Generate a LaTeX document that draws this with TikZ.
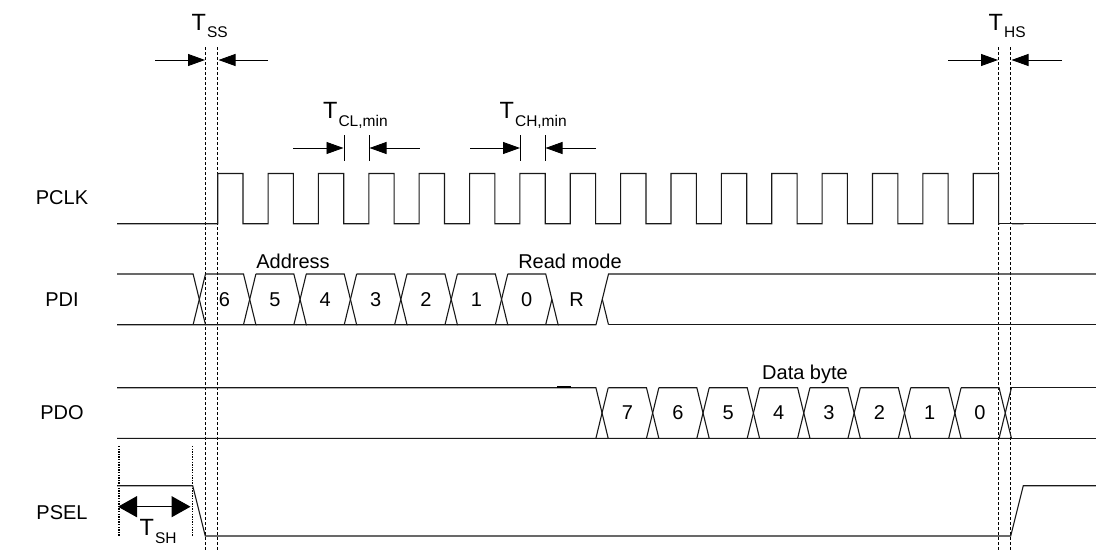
\documentclass[tikz,border=0pt]{standalone}
\usepackage{fontspec}
\setmainfont{Liberation Sans}
\usetikzlibrary{arrows.meta}
\tikzset{
  sig/.style={line width=1.1pt,black!90},
  guide/.style={line width=0.9pt,dash pattern=on 3pt off 2pt},
  dots/.style={line width=1.3pt,dash pattern=on 1.3pt off 1.3pt},
  gap/.style={line width=0.9pt,-{Triangle[length=17pt,width=12pt]}},
  both/.style={line width=1.3pt,{Triangle[length=19pt,width=21pt]}-{Triangle[length=19pt,width=21pt]}},
  lab/.style={font=\fontsize{20}{24}\selectfont,inner sep=0pt},
  tim/.style={anchor=base west,inner sep=0pt,font=\fontsize{23.5}{28}\selectfont},
}
\newcommand{\timing}[1]{T\hspace{1pt}\raisebox{-7.5pt}{\fontsize{15.5}{18}\selectfont #1}}
\begin{document}
\begin{tikzpicture}[x=1pt,y=-1pt]
\useasboundingbox (0,0) rectangle (1096,552);
% guide lines
\foreach \x in {205.3,217.7,998.7,1010.7}
  \draw[guide] (\x,47) -- (\x,552);
\draw[dots] (119,446) -- (119,536);
\draw[dots] (192.7,446) -- (192.7,536);
% PCLK
\draw[sig] (117,223.7) -- (217.7,223.7)
  \foreach \i in {0,...,15} {
    -- ({217.7+50.37*\i},173.5) -- ({243+50.37*\i},173.5)
    -- ({243+50.37*\i},223.7) -- ({268.07+50.37*\i},223.7)
  };
\draw[sig,white,line width=2pt] (999.5,223.7) -- (1012,223.7);
\draw[sig] (998.7,223.7) -- (1096,223.7);
% PDI
\draw[sig] (117,274) -- (193.1,274) -- (205.5,324.7) -- (117,324.7);
\draw[sig] (193.1,324.7) -- (205.5,274);
\foreach \bit [count=\i from 0,evaluate=\i as \xc using 199.3+50.37*\i] in {6,5,4,3,2,1,0} {
  \node[lab] (pdi\i) at ({\xc+25.2},300) {\bit};
  \draw[sig] ({\xc+6.2},274) -- ({\xc+44.2},274) -- ({\xc+56.6},324.7) -- ({\xc+44.2},324.7) -- ({\xc+6.2},324.7);
  \ifnum\i<6
    \draw[sig] ({\xc+44.2},324.7) -- ({\xc+56.6},274);
  \fi
}
\draw[sig] (545.7,324.7) -- (551.9,299.3);
\draw[sig] (558.1,324.7) -- (596,324.7) -- (608.5,274) -- (1096,274);
\draw[sig] (608.5,324.7) -- (602.3,299.3);
\draw[sig] (608.5,324.7) -- (1096,324.7);
\node[lab] (pdir) at (576.7,300) {R};
% PDO
\draw[sig] (117,387.7) -- (595.9,387.7) -- (608.2,438.3) -- (595.9,438.3) -- (117,438.3);
\draw[sig] (595.9,438.3) -- (608.2,387.7);
\draw[line width=2pt] (557,387.4) -- (571,387.4);
\foreach \bit [count=\i from 8,evaluate=\i as \xc using 199.3+50.37*\i] in {7,6,5,4,3,2,1,0} {
  \node[lab] (pdo\i) at ({\xc+25.2},413) {\bit};
  \draw[sig] ({\xc+6.2},387.7) -- ({\xc+44.2},387.7) -- ({\xc+56.6},438.3) -- ({\xc+44.2},438.3) -- ({\xc+6.2},438.3);
  \draw[sig] ({\xc+44.2},438.3) -- ({\xc+56.6},387.7);
}
\draw[sig] (1011.2,387.7) -- (1096,387.7);
\draw[sig] (1011.2,438.3) -- (1096,438.3);
% PSEL
\draw[sig] (117,485.7) -- (192.7,485.7) -- (205.3,536) -- (1010.7,536) -- (1023.3,485.7) -- (1096,485.7);
% timing arrows
\draw[gap] (155,60) -- (205,60);
\draw[gap] (268,60) -- (218.5,60);
\draw[gap] (948,60) -- (998,60);
\draw[gap] (1062,60) -- (1011.5,60);
\draw[gap] (293,148) -- (343.5,148);
\draw[gap] (419.5,148) -- (369.5,148);
\draw[gap] (470,148) -- (520,148);
\draw[gap] (596,148) -- (545.5,148);
\foreach \x in {344,369,520.3,545.3}
  \draw[line width=0.9pt] (\x,135) -- (\x,161);
\draw[both] (118,506.7) -- (190.5,506.7);
% labels
\node[tim] (tss) at (191.5,30) {\timing{SS}};
\node[tim] (tcl) at (323,118.5) {\timing{CL,min}};
\node[tim] (tch) at (499.5,118.5) {\timing{CH,min}};
\node[tim] (ths) at (988.5,30) {\timing{HS}};
\node[tim] (tsh) at (139.5,535.5) {\timing{SH}};
\node[lab] (pclk) at (62,198) {PCLK};
\node[lab] (pdi) at (62,300) {PDI};
\node[lab] (pdo) at (62,413) {PDO};
\node[lab] (psel) at (62,513) {PSEL};
\node[lab] (addr) at (293,261) {Address};
\node[lab] (rmode) at (570,261.5) {Read mode};
\node[lab] (dbyte) at (805,374) {Data byte};
\end{tikzpicture}
\end{document}
